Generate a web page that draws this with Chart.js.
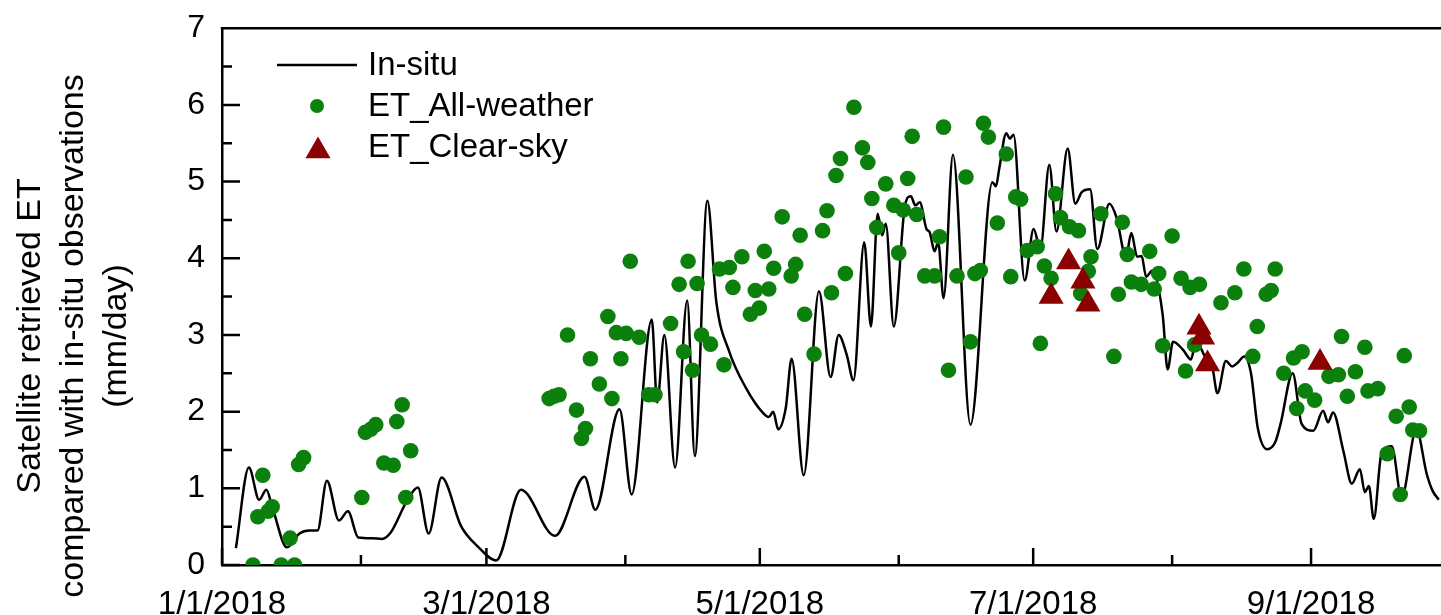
<!DOCTYPE html>
<html>
<head>
<meta charset="utf-8">
<title>Satellite retrieved ET vs in-situ</title>
<script src="https://cdn.jsdelivr.net/npm/chart.js@4"></script>
<style>
  html, body { margin: 0; padding: 0; background: #fff; overflow: hidden; }
  canvas { display: block; }
</style>
</head>
<body>
<canvas id="etChart" width="1460" height="615"></canvas>
<script>
// x values are days since 1/1/2018
const monthStartDays = [0, 31, 59, 90, 120, 151, 181, 212, 243, 273];
const monthLabels = ['1/1/2018', '', '3/1/2018', '', '5/1/2018', '', '7/1/2018', '', '9/1/2018', ''];
const yTitleLines = ['Satellite retrieved ET', 'compared with in-situ observations', '(mm/day)'];

// In-situ daily ET (mm/day)
const insituDays = [3.1, 6.0, 8.3, 9.9, 11.2, 14.5, 17.3, 19.5, 21.3, 23.4, 26.1, 28.1, 30.4, 33.5, 35.7, 37.6,
  41.3, 43.7, 46.1, 49.0, 53.4, 57.1, 61.2, 66.7, 74.3, 80.9, 83.3, 88.7, 91.4, 95.9, 97.1, 98.7,
  101.1, 103.8, 105.5, 108.3, 110.3, 113.2, 116.9, 120.6, 122.0, 123.0, 124.1, 125.8, 127.1, 129.8,
  133.2, 135.8, 137.6, 139.4, 140.9, 143.3, 144.8, 146.3, 147.3, 148.1, 149.9, 152.4, 153.7, 154.7,
  155.7, 157.2, 157.9, 159.0, 159.8, 161.0, 163.1, 167.0, 171.9, 172.7, 173.4, 175.0, 175.8, 176.6,
  179.1, 181.1, 182.6, 184.6, 186.2, 188.7, 190.4, 191.8, 193.7, 195.3, 198.0, 199.6, 201.7, 202.9,
  204.2, 205.2, 206.2, 207.6, 209.9, 211.0, 212.2, 214.4, 216.2, 217.3, 219.5, 221.0, 222.1, 224.0,
  225.4, 226.5, 228.1, 229.6, 231.1, 233.2, 235.0, 236.2, 238.9, 240.9, 243.5, 245.7, 246.8, 247.9,
  250.2, 252.1, 253.9, 255.0, 255.9, 257.0, 258.7, 261.0, 263.2, 266.5, 268.8, 270.1, 271.5];
const insituET = [0.22, 1.27, 0.85, 0.98, 0.76, 0.23, 0.41, 0.45, 0.45, 1.10, 0.58, 0.70, 0.36, 0.35, 0.34, 0.42,
  0.84, 1.01, 0.41, 1.14, 0.50, 0.24, 0.06, 0.98, 0.38, 1.15, 0.72, 2.03, 0.92, 3.20, 2.12, 3.00,
  1.27, 3.45, 1.42, 4.75, 3.43, 2.78, 2.31, 1.99, 1.93, 2.00, 1.77, 2.05, 2.69, 1.17,
  3.57, 2.45, 3.00, 2.74, 2.41, 4.21, 3.11, 4.58, 4.30, 4.45, 3.11, 4.69, 4.81, 4.69,
  4.73, 4.38, 4.34, 4.09, 4.21, 3.48, 5.35, 1.83, 4.99, 4.94, 5.16, 5.63, 5.56, 5.61,
  3.71, 4.38, 4.12, 5.22, 4.35, 5.43, 4.71, 4.86, 4.90, 4.12, 4.71, 4.53, 4.02, 4.33,
  4.02, 4.03, 3.76, 3.84, 3.26, 2.55, 2.91, 2.81, 2.68, 2.91, 2.70, 2.57, 2.24, 2.66,
  2.59, 2.63, 2.72, 2.50, 1.79, 1.51, 1.60, 1.84, 2.50, 1.84, 1.75, 2.01, 1.86, 1.99,
  1.49, 1.06, 1.25, 0.95, 1.03, 0.60, 1.45, 1.55, 0.88, 1.77, 1.19, 0.97, 0.85];

// ET_All-weather retrievals
const allWeatherDays = [6.9, 8.0, 9.1, 10.3, 11.2, 13.2, 15.2, 16.2, 17.1, 18.2, 31.2, 32.0, 33.2, 34.3, 36.1, 38.2,
  39.0, 40.2, 41.0, 42.1, 73.0, 74.1, 75.2, 77.1, 79.1, 80.2, 81.1, 82.2, 84.2, 86.1, 87.0, 88.0,
  89.0, 90.2, 91.1, 93.1, 95.2, 96.6, 100.1, 102.0, 103.0, 104.0, 105.0, 106.0, 107.0, 109.0,
  111.0, 112.0, 113.2, 114.0, 116.0, 117.9, 119.0, 119.9, 121.0, 122.0, 123.1, 125.0, 127.0, 128.0,
  129.0, 130.0, 132.1, 134.0, 135.0, 136.0, 137.0, 138.0, 139.1, 141.0, 142.9, 144.1, 145.0, 146.1,
  148.1, 149.9, 151.0, 152.0, 153.0, 154.0, 155.0, 156.8, 159.0, 160.1, 161.0, 162.1, 164.0, 166.0,
  167.0, 168.0, 169.2, 169.9, 171.0, 173.0, 175.0, 176.0, 177.1, 178.2, 179.7, 181.9, 182.6, 183.5,
  185.0, 186.0, 187.1, 189.1, 191.1, 191.6, 193.3, 193.9, 196.1, 199.0, 200.0, 200.9, 202.0, 202.9,
  205.1, 207.0, 208.0, 209.0, 209.9, 212.0, 214.0, 215.0, 216.0, 217.0, 218.1, 222.9, 226.0, 228.0,
  230.0, 231.0, 233.0, 234.1, 235.0, 236.9, 239.1, 239.8, 241.0, 241.7, 243.8, 247.0, 249.1, 249.8,
  251.1, 252.9, 255.0, 255.7, 257.9, 260.0, 262.0, 262.9, 263.8, 264.9, 265.7, 267.2];
const allWeatherET = [0.0, 0.63, 1.17, 0.70, 0.76, 0.0, 0.35, 0.0, 1.31, 1.40, 0.88, 1.73, 1.77, 1.83, 1.33, 1.30,
  1.87, 2.09, 0.88, 1.49, 2.17, 2.20, 2.22, 3.00, 2.02, 1.65, 1.78, 2.69, 2.36, 3.24, 2.17, 3.03,
  2.69, 3.02, 3.96, 2.97, 2.22, 2.22, 3.15, 3.66, 2.78, 3.96, 2.54, 3.67, 3.00, 2.88,
  3.86, 2.61, 3.88, 3.62, 4.02, 3.27, 3.58, 3.35, 4.09, 3.60, 3.87, 4.54, 3.77, 3.92,
  4.30, 3.27, 2.75, 4.36, 4.62, 3.55, 5.08, 5.30, 3.80, 5.97, 5.44, 5.25, 4.78, 4.40,
  4.97, 4.69, 4.07, 4.63, 5.04, 5.59, 4.57, 3.77, 3.77, 4.28, 5.71, 2.54, 3.77, 5.06,
  2.91, 3.80, 3.84, 5.76, 5.58, 4.46, 5.36, 3.76, 4.80, 4.77, 4.10, 4.15, 2.89, 3.90,
  3.74, 4.84, 4.53, 4.41, 4.36, 3.54, 3.83, 4.02, 4.58, 2.72, 3.53, 4.47, 4.05, 3.69,
  3.66, 4.09, 3.60, 3.80, 2.86, 4.29, 3.74, 2.53, 3.62, 2.87, 3.66, 3.42, 3.55, 3.86,
  2.72, 3.11, 3.53, 3.58, 3.86, 2.50, 2.70, 2.04, 2.78, 2.27, 2.15, 2.46, 2.48, 2.98,
  2.20, 2.52, 2.84, 2.27, 2.30, 1.45, 1.94, 0.92, 2.73, 2.06, 1.76, 1.75];

// ET_Clear-sky retrievals
const clearSkyDays = [185.0, 188.9, 192.1, 193.2, 218.0, 218.8, 219.9, 245.0];
const clearSkyET = [3.50, 3.95, 3.70, 3.40, 3.10, 2.97, 2.62, 2.64];

const toPoints = (xs, ys) => xs.map((d, i) => ({ x: d, y: ys[i] }));
const FONT = '"Liberation Sans", Arial, sans-serif';

// frame line on top plus inward tick marks, like the original figure
const frameTicks = {
    id: 'frameTicks',
    afterDraw(chart) {
        const { ctx, chartArea: a, scales: { x, y } } = chart;
        ctx.save();
        ctx.strokeStyle = '#000';
        ctx.lineWidth = 2.5;
        ctx.beginPath();
        ctx.moveTo(a.left - 1.25, a.top);
        ctx.lineTo(a.right + 10, a.top);
        monthStartDays.forEach((d, i) => {
            const px = x.getPixelForValue(d);
            const len = monthLabels[i] ? 17 : 10;
            ctx.moveTo(px, a.bottom);
            ctx.lineTo(px, a.bottom - len);
        });
        for (let v = 0; v <= 7; v += 0.5) {
            const py = y.getPixelForValue(v);
            const len = Number.isInteger(v) ? 18 : 10;
            ctx.moveTo(a.left, py);
            ctx.lineTo(a.left + len, py);
        }
        ctx.stroke();
        ctx.restore();
    }
};

// y title, three centred lines, sits a little below the axis middle in the original
const yTitle = {
    id: 'yTitle',
    afterDraw(chart) {
        const ctx = chart.ctx;
        ctx.save();
        ctx.translate(0, 336);
        ctx.rotate(-Math.PI / 2);
        ctx.font = '34px ' + FONT;
        ctx.textAlign = 'center';
        ctx.textBaseline = 'middle';
        ctx.fillStyle = '#000';
        yTitleLines.forEach((t, i) => ctx.fillText(t, 0, 31 + i * 43));
        ctx.restore();
    }
};

// legend inside the plot, top left
const insideLegend = {
    id: 'insideLegend',
    afterDraw(chart) {
        const ctx = chart.ctx;
        const ds = chart.data.datasets;
        const textX = 368;
        const rows = [65, 106, 147];
        ctx.save();

        // line sample
        ctx.strokeStyle = ds[0].borderColor;
        ctx.lineWidth = 2.5;
        ctx.beginPath();
        ctx.moveTo(277, rows[0]);
        ctx.lineTo(357, rows[0]);
        ctx.stroke();

        // dot sample
        ctx.fillStyle = ds[1].backgroundColor;
        ctx.beginPath();
        ctx.arc(317, rows[1], 7, 0, Math.PI * 2);
        ctx.fill();

        // triangle sample
        const r = 14.5;
        const cy = rows[2] + 4;
        ctx.fillStyle = ds[2].backgroundColor;
        ctx.beginPath();
        ctx.moveTo(318, cy - r);
        ctx.lineTo(318 + r * Math.cos(Math.PI / 6), cy + r / 2);
        ctx.lineTo(318 - r * Math.cos(Math.PI / 6), cy + r / 2);
        ctx.closePath();
        ctx.fill();

        ctx.font = '33px ' + FONT;
        ctx.textBaseline = 'middle';
        ctx.fillStyle = '#000';
        ds.forEach((d, i) => ctx.fillText(d.label, textX, rows[i] + 1));
        ctx.restore();
    }
};

Chart.defaults.font.family = FONT;
Chart.defaults.color = '#000';

new Chart(document.getElementById('etChart'), {
    type: 'scatter',
    data: {
        datasets: [{
            type: 'line',
            label: 'In-situ',
            data: toPoints(insituDays, insituET),
            borderColor: '#000',
            borderWidth: 2.5,
            pointRadius: 0,
            cubicInterpolationMode: 'monotone',
            fill: false,
            order: 3
        },
        {
            label: 'ET_All-weather',
            data: toPoints(allWeatherDays, allWeatherET),
            backgroundColor: '#0c800c',
            borderWidth: 0,
            pointRadius: 7.8,
            order: 2
        },
        {
            label: 'ET_Clear-sky',
            data: toPoints(clearSkyDays, clearSkyET),
            backgroundColor: '#8b0000',
            borderWidth: 0,
            pointStyle: 'triangle',
            pointRadius: 14.5,
            order: 1
        }]
    },
    options: {
        responsive: false,
        animation: false,
        events: [],
        layout: { padding: { top: 24.5, right: 5, left: 0, bottom: 0 } },
        plugins: {
            legend: { display: false },
            tooltip: { enabled: false }
        },
        scales: {
            x: {
                type: 'linear',
                min: 0,
                max: 273,
                grid: { display: false },
                border: { display: true, color: '#000', width: 2.5 },
                afterBuildTicks: scale => {
                    scale.ticks = monthStartDays.map(v => ({ value: v }));
                },
                afterFit: scale => { scale.height = 50; },
                ticks: {
                    autoSkip: false,
                    maxRotation: 0,
                    padding: 12,
                    font: { size: 33 },
                    callback: value => monthLabels[monthStartDays.indexOf(value)] || ''
                }
            },
            y: {
                min: 0,
                max: 7,
                grid: { display: false },
                border: { display: true, color: '#000', width: 2.5 },
                afterFit: scale => { scale.width = 222; },
                ticks: {
                    stepSize: 1,
                    padding: 9,
                    font: { size: 32 }
                }
            }
        }
    },
    plugins: [frameTicks, yTitle, insideLegend]
});
</script>
</body>
</html>
